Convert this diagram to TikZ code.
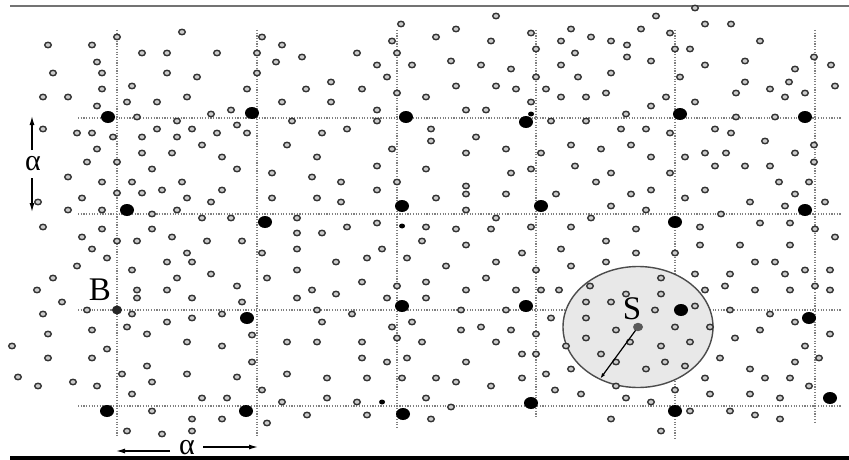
\documentclass[tikz,border=0pt]{standalone}
\usepackage{fontspec}
\setmainfont{Liberation Serif}
\usetikzlibrary{arrows.meta}
\begin{document}
\begin{tikzpicture}[x=1pt,y=-1pt,
  gridline/.style={draw=black!50,line width=1.3pt,dash pattern=on 1.2pt off 1.5pt},
  ring/.style={draw=black!80,line width=1.4pt,fill=black!20},
  bigdot/.style={fill=black},
  lab/.style={inner sep=0pt,font=\fontsize{33}{33}\selectfont},
  alab/.style={inner sep=0pt,font=\fontsize{30}{30}\selectfont},
  arr/.style={line width=1.2pt,-{Latex[length=9pt,width=5pt]}}]
\useasboundingbox (0,0) rectangle (849,460);
\fill[white] (0,0) rectangle (849,460);
% frame lines
\draw[black!55,line width=1.6pt] (10,6) -- (849,6);
\draw[black,line width=3.5pt] (10,458) -- (849,458);
% grid
\foreach \gx/\gb in {117/436,257/436,397/427,536/418,675/438,815/422}
  \draw[gridline] (\gx,30) -- (\gx,\gb);
\foreach \gy in {118,214,310,406}
  \draw[gridline] (78,\gy) -- (842,\gy);
% shaded disc S
\draw[black!70,line width=1.4pt,fill=black!9] (638,327) ellipse [x radius=75pt, y radius=60.5pt];
% small rings
\foreach \px/\py in {117/37, 182/32, 48/45, 92/45, 142/53, 167/53, 217/53, 257/53, 262/37, 282/45, 276/62, 97/62, 53/73, 102/73, 167/73, 197/77, 257/73, 132/86, 102/89, 247/89, 43/97, 68/97, 127/102, 157/102, 187/97, 282/102, 97/106, 231/110, 211/114, 137/117, 177/121, 292/121, 237/125, 43/129, 157/129, 192/129, 77/133, 92/133, 217/133, 247/133, 113/137, 142/137, 177/137, 202/145, 287/145, 97/149, 142/153, 172/153, 222/157, 87/162, 117/162, 152/169, 237/169, 272/173, 68/177, 102/182, 132/182, 182/182, 117/193, 142/193, 162/190, 222/190, 82/198, 187/198, 211/202, 272/198, 38/202, 68/210, 102/210, 177/210, 152/214, 202/218, 231/218, 297/218, 43/227, 102/229, 152/229,
82/237, 117/241, 137/241, 172/237, 207/241, 242/241, 297/233, 92/249, 107/258, 187/253, 167/262, 192/262, 262/253, 297/249, 77/266, 132/270, 211/274, 297/270, 53/278, 177/278, 267/278, 37/290, 137/290, 167/290, 237/286, 137/298, 192/298, 242/302, 297/298, 62/302, 43/314, 87/310, 132/314, 222/314, 192/318, 167/322, 127/327, 92/330, 48/334, 147/334, 252/335, 187/342, 287/342, 12/346, 222/346, 107/349, 48/358, 92/358, 252/362, 147/366, 122/374, 187/374, 287/374, 18/377, 237/377, 152/382, 38/386, 73/382, 97/386, 262/390, 132/394, 202/398, 227/398, 282/402, 152/411, 192/419, 222/419, 267/423, 127/431, 162/434, 192/431,
401/24, 496/16, 456/29, 436/37, 392/41, 491/41, 531/33, 571/29, 302/57, 357/53, 397/53, 377/65, 412/65, 451/61, 481/65, 511/69, 536/49, 561/41, 575/53, 561/65, 387/77, 536/77, 578/77, 331/82, 306/89, 362/89, 397/93, 426/97, 456/86, 496/86, 516/89, 546/89, 561/97, 331/102, 531/102, 377/110, 466/110, 486/110, 377/121, 551/121, 322/133, 347/129, 431/129, 431/141, 476/137, 392/149, 506/149, 571/145, 466/153, 541/153, 317/157, 377/166, 575/166, 426/169, 511/173, 531/169, 312/177, 341/182, 397/182, 466/186, 377/190, 466/194, 506/194, 556/194, 317/198, 341/202, 436/198, 466/210, 496/218, 347/227, 377/223, 426/227, 456/229, 491/229, 531/227, 571/227,
695/8, 656/16, 705/24, 731/24, 641/29, 670/33, 591/37, 611/41, 627/45, 760/41, 675/49, 690/49, 627/57, 651/61, 745/61, 814/57, 705/65, 831/65, 611/73, 680/77, 795/69, 745/82, 789/82, 835/86, 606/93, 586/97, 666/97, 736/93, 770/89, 785/97, 805/93, 651/106, 695/102, 626/114, 586/121, 736/117, 775/117, 621/129, 646/129, 670/133, 715/129, 731/133, 601/149, 631/145, 765/141, 814/145, 651/157, 685/157, 705/153, 726/153, 795/153, 715/166, 745/166, 770/166, 814/162, 611/173, 670/173, 596/182, 779/182, 809/182, 705/190, 651/190, 631/194, 795/194, 685/198, 611/206, 750/202, 785/206, 825/202, 646/210, 591/218, 721/214, 636/229, 700/227, 760/223, 790/223, 815/229,
322/233, 422/241, 466/245, 382/249, 367/258, 407/258, 336/262, 446/266, 496/262, 522/253, 536/270, 486/278, 362/282, 426/282, 397/286, 312/290, 336/294, 466/290, 516/290, 541/290, 559/290, 387/298, 426/298, 317/310, 352/314, 461/310, 506/310, 322/322, 392/327, 412/322, 461/330, 481/327, 511/330, 551/318, 536/334, 317/342, 362/342, 397/338, 422/342, 496/342, 362/358, 387/362, 407/358, 466/362, 522/354, 536/354, 327/378, 367/378, 402/378, 436/378, 456/382, 491/386, 522/378, 546/374, 555/390, 327/398, 357/402, 426/398, 451/407, 307/415, 367/415, 431/419,
606/241, 700/245, 740/245, 790/245, 835/237, 561/249, 636/253, 675/253, 571/266, 606/262, 755/262, 775/262, 695/274, 730/274, 785/274, 805/270, 830/270, 661/278, 590/286, 626/294, 661/294, 705/290, 725/286, 755/290, 790/290, 815/286, 830/290, 586/302, 611/302, 655/310, 695/306, 730/310, 770/314, 586/318, 795/322, 675/327, 710/327, 616/330, 760/330, 830/334, 586/338, 630/342, 690/342, 735/338, 566/346, 661/346, 805/346, 601/354, 720/358, 819/358, 616/362, 665/362, 795/362, 685/366, 571/369, 646/369, 750/369, 705/378, 765/378, 790/378, 616/386, 809/386, 581/394, 675/390, 710/394, 750/394, 626/398, 780/398, 651/402, 690/411, 730/411, 755/415, 780/419, 611/419, 661/431}
  \draw[ring] (\px,\py) ellipse [x radius=3.3pt, y radius=2.7pt];
% large black dots
\foreach \px/\py in {108/117, 252/113, 406/117, 526/122, 680/114, 805/117,
  127/210, 265/222, 402/206, 541/206, 675/222, 805/210,
  247/318, 402/306, 526/306, 681/310, 809/318,
  107/411, 246/411, 403/414, 531/403, 675/411, 830/398}
  \fill[bigdot] (\px,\py) ellipse [x radius=7pt, y radius=6pt];
% small black dots
\foreach \px/\py in {531/114, 402/226, 382/402}
  \fill[bigdot] (\px,\py) ellipse [x radius=3pt, y radius=2.5pt];
\fill[black!85] (117,310) ellipse [x radius=5pt, y radius=4.5pt];
% labels
\node[lab] (B) at (100,290) {B};
\node[lab] (S) at (632,309) {S};
\node[alab] (al) at (33,164) {α};
\node[alab] (ab) at (187,448) {α};
% arrows
\coordinate (u1) at (32,150); \coordinate (u2) at (32,116);
\coordinate (d1) at (32,178); \coordinate (d2) at (32,212);
\coordinate (l1) at (170,451); \coordinate (l2) at (116,451);
\coordinate (r1) at (203,447); \coordinate (r2) at (258,447);
\draw[arr] (u1) -- (u2);
\draw[arr] (d1) -- (d2);
\draw[arr] (l1) -- (l2);
\draw[arr] (r1) -- (r2);
% radius of S
\coordinate (sc) at (638,327);
\coordinate (se) at (600,379);
\draw[line width=1.2pt,-{Latex[length=6pt,width=3.5pt]}] (sc) -- (se);
\fill[black!65] (sc) ellipse [x radius=5pt, y radius=4.2pt];
\end{tikzpicture}
\end{document}
